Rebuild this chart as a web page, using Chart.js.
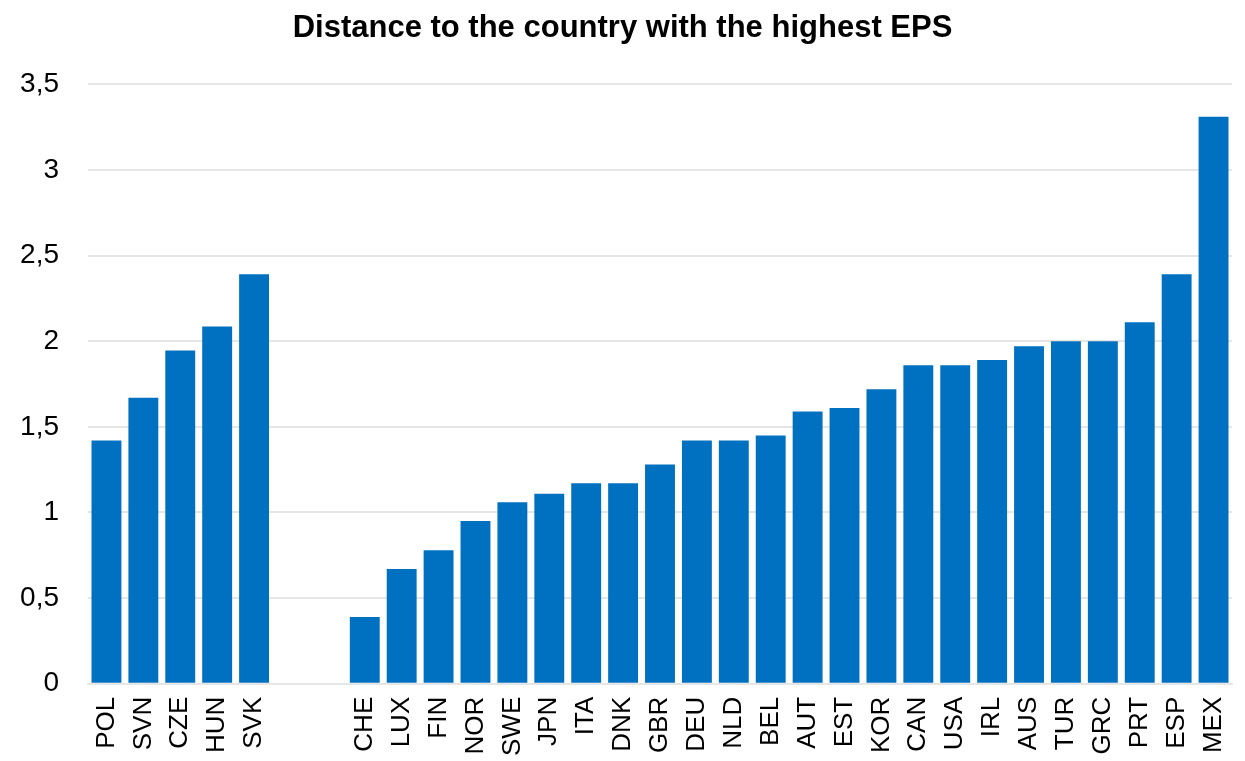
<!DOCTYPE html>
<html>
<head>
<meta charset="utf-8">
<script src="https://cdn.jsdelivr.net/npm/chart.js@4"></script>
<style>
	body { margin: 0; background: #fff; }
	#wrap { width: 1245px; height: 761px; }
</style>
</head>
<body>
<div id="wrap"><canvas id="mycanvas"></canvas></div>
<script>
// two empty slots separate the two country groups
var countries = ['POL', 'SVN', 'CZE', 'HUN', 'SVK', '', '',
	'CHE', 'LUX', 'FIN', 'NOR', 'SWE', 'JPN', 'ITA', 'DNK', 'GBR', 'DEU', 'NLD', 'BEL',
	'AUT', 'EST', 'KOR', 'CAN', 'USA', 'IRL', 'AUS', 'TUR', 'GRC', 'PRT', 'ESP', 'MEX'];
var distance = [1.42, 1.67, 1.945, 2.085, 2.39, null, null,
	0.39, 0.67, 0.78, 0.95, 1.06, 1.11, 1.17, 1.17, 1.28, 1.42, 1.42, 1.45,
	1.59, 1.61, 1.72, 1.86, 1.86, 1.89, 1.97, 2.0, 2.0, 2.11, 2.39, 3.31];

var font = "'Liberation Sans Narrow', 'Arial Narrow', 'Liberation Sans', Arial, sans-serif";

var chartdata = {
	labels: countries,
	datasets: [
		{
			label: 'Distance',
			backgroundColor: '#0070c0',
			borderWidth: 0,
			categoryPercentage: 1,
			barPercentage: 0.81,
			data: distance
		}
	]
};

var ctx = document.getElementById('mycanvas');

var barGraph = new Chart(ctx, {
	type: 'bar',
	data: chartdata,
	options: {
		responsive: true,
		maintainAspectRatio: false,
		animation: false,
		layout: { padding: { left: 0, right: 0, top: 4, bottom: 0 } },
		plugins: {
			legend: { display: false },
			tooltip: { enabled: false },
			title: {
				display: true,
				text: 'Distance to the country with the highest EPS',
				color: '#000',
				font: { family: "'Liberation Sans', Arial, sans-serif", size: 31, weight: 'bold' },
				padding: { top: 6, bottom: 37 }
			}
		},
		scales: {
			x: {
				grid: { display: false },
				border: { color: '#e6e6e6', width: 2 },
				afterFit: function(axis) { axis.paddingRight = 13; },
				ticks: {
					color: '#000',
					autoSkip: false,
					minRotation: 90,
					maxRotation: 90,
					padding: 5,
					font: { family: font, size: 26 }
				}
			},
			y: {
				min: 0,
				max: 3.5,
				afterFit: function(axis) { axis.width = 88; },
				grid: { color: '#e6e6e6', lineWidth: 2, drawTicks: false },
				border: { display: false },
				ticks: {
					stepSize: 0.5,
					color: '#000',
					padding: 29,
					font: { family: font, size: 28 },
					callback: function(v) { return String(v).replace('.', ','); }
				}
			}
		}
	}
});
</script>
</body>
</html>
